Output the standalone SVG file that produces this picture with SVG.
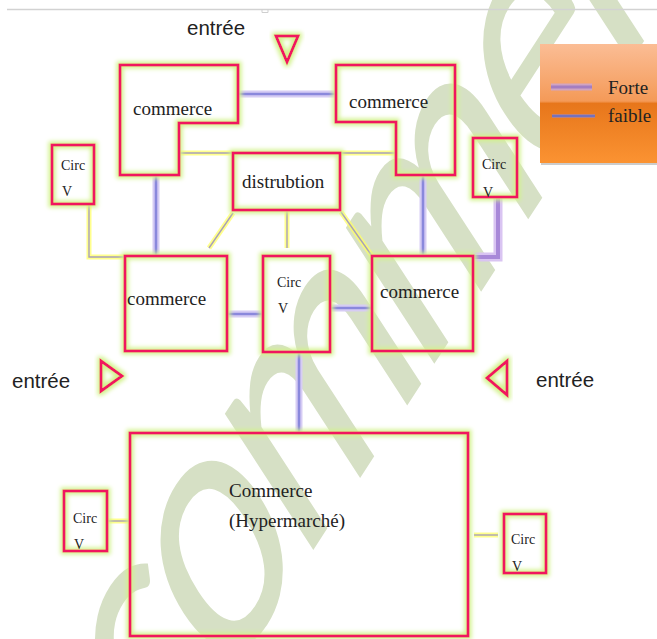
<svg xmlns="http://www.w3.org/2000/svg" width="657" height="639" viewBox="0 0 657 639">
<style>
.wm{font-family:Lato,"Open Sans",sans-serif;font-size:380px;letter-spacing:-20px;fill:#d6e0c5}
.box{fill:none;stroke:#f0135e;stroke-width:3;filter:url(#glow)}
.lbl{font-family:"Liberation Serif",serif;font-size:19px;fill:#222}
.sm{font-family:"Liberation Serif",serif;font-size:14px;fill:#222}
.ent{font-family:"Liberation Sans",Arial,sans-serif;font-size:20.5px;fill:#222}
.yh{stroke:#ffff66;stroke-width:5;opacity:.75;fill:none}
.yl{stroke:#a8a0b8;stroke-width:1.4;fill:none}
.bh{stroke:#d6ccf4;stroke-width:7;fill:none}
.bl{stroke:#8a88dc;stroke-width:2.6;fill:none}
.ph{stroke:#d9c4f2;stroke-width:9;fill:none}
.pl{stroke:#a888d8;stroke-width:4;fill:none}
</style>
<defs>
<filter id="glow" x="-30%" y="-30%" width="160%" height="160%">
<feMorphology operator="dilate" radius="2" in="SourceAlpha" result="d"/>
<feGaussianBlur in="d" stdDeviation="2" result="b"/>
<feFlood flood-color="#d2f28c"/>
<feComposite in2="b" operator="in" result="g"/>
<feMerge><feMergeNode in="g"/><feMergeNode in="SourceGraphic"/></feMerge>
</filter>
<linearGradient id="leg" x1="0" y1="0" x2="0" y2="1">
<stop offset="0" stop-color="#fbbd95"/>
<stop offset="0.48" stop-color="#f49a58"/>
<stop offset="0.5" stop-color="#e7761b"/>
<stop offset="1" stop-color="#fb9332"/>
</linearGradient>
</defs>
<rect width="657" height="639" fill="#fff"/>
<g id="watermark">
<text class="wm" transform="translate(156,792) scale(0.65,1) rotate(-45) scale(0.9,1)">commerce</text>
</g>
<g id="page-edge">
<line x1="7" y1="9.5" x2="657" y2="9.5" stroke="#d2d2d2" stroke-width="1.5"/>
<path d="M262,9.5 v3 h6 v-3" fill="none" stroke="#cfcfcf" stroke-width="1"/>
</g>
<g id="connectors">
<line class="bh" x1="238" y1="94" x2="336" y2="94"/><line class="bl" x1="238" y1="94" x2="336" y2="94"/>
<path class="yh" d="M179,153 H234 M340,153 H396"/><path class="yl" d="M179,153 H234 M340,153 H396"/>
<path class="yh" d="M89,204 V257 H125"/><path class="yl" d="M89,204 V257 H125"/>
<line class="bh" x1="156" y1="175" x2="156" y2="256"/><line class="bl" x1="156" y1="175" x2="156" y2="256"/>
<line class="yh" x1="233" y1="213" x2="209" y2="248"/><line class="yl" x1="233" y1="213" x2="209" y2="248"/>
<line class="yh" x1="287" y1="210" x2="287" y2="248"/><line class="yl" x1="287" y1="210" x2="287" y2="248"/>
<line class="yh" x1="341" y1="212" x2="372" y2="256"/><line class="yl" x1="341" y1="212" x2="372" y2="256"/>
<line class="bh" x1="423" y1="175" x2="423" y2="256"/><line class="bl" x1="423" y1="175" x2="423" y2="256"/>
<path class="ph" d="M498,197 V257 H473"/><path class="pl" d="M498,197 V257 H473"/>
<line class="bh" x1="227" y1="314" x2="263" y2="314"/><line class="bl" x1="227" y1="314" x2="263" y2="314"/>
<line class="bh" x1="330" y1="308" x2="372" y2="308"/><line class="bl" x1="330" y1="308" x2="372" y2="308"/>
<line class="bh" x1="299" y1="352" x2="299" y2="433"/><line class="bl" x1="299" y1="352" x2="299" y2="433"/>
<line class="yh" x1="107" y1="521" x2="130" y2="521"/><line class="yl" x1="107" y1="521" x2="130" y2="521"/>
<line class="yh" x1="474" y1="535" x2="498" y2="535"/><line class="yl" x1="474" y1="535" x2="498" y2="535"/>
</g>
<g id="entree-top">
<text class="ent" x="187" y="35">entrée</text>
<polygon class="box" points="276,36 298,36 287,62"/>
</g>
<g id="entree-left">
<text class="ent" x="12" y="388">entrée</text>
<polygon class="box" points="101,361 101,391 122,376"/>
</g>
<g id="entree-right">
<text class="ent" x="536" y="387">entrée</text>
<polygon class="box" points="507,361 507,395 487,378"/>
</g>
<g id="commerce-tl">
<polygon class="box" points="120,65 238,65 238,123 179,123 179,175 120,175"/>
<text class="lbl" x="133" y="115">commerce</text>
</g>
<g id="commerce-tr">
<polygon class="box" points="336,65 455,65 455,175 396,175 396,122 336,122"/>
<text class="lbl" x="349" y="108">commerce</text>
</g>
<g id="distribution">
<rect class="box" x="233" y="153" width="107" height="57"/>
<text class="lbl" x="242" y="188">distrubtion</text>
</g>
<g id="circ-left">
<rect class="box" x="52" y="145" width="42" height="59"/>
<text class="sm" x="61" y="170">Circ</text>
<text class="sm" x="62" y="196">V</text>
</g>
<g id="circ-right">
<rect class="box" x="473" y="138" width="44" height="59"/>
<text class="sm" x="482" y="169">Circ</text>
<text class="sm" x="483" y="197">V</text>
</g>
<g id="commerce-ml">
<rect class="box" x="125" y="256" width="102" height="95"/>
<text class="lbl" x="127" y="305">commerce</text>
</g>
<g id="circ-mid">
<rect class="box" x="263" y="256" width="67" height="96"/>
<text class="sm" x="277" y="287">Circ</text>
<text class="sm" x="278" y="313">V</text>
</g>
<g id="commerce-mr">
<rect class="box" x="372" y="256" width="101" height="95"/>
<text class="lbl" x="380" y="298">commerce</text>
</g>
<g id="hypermarche">
<rect class="box" x="130" y="433" width="338" height="203"/>
<text class="lbl" x="229" y="497">Commerce</text>
<text class="lbl" x="229" y="527">(Hypermarché)</text>
</g>
<g id="circ-bl">
<rect class="box" x="64" y="491" width="43" height="60"/>
<text class="sm" x="73" y="523">Circ</text>
<text class="sm" x="74" y="549">V</text>
</g>
<g id="circ-br">
<rect class="box" x="504" y="514" width="42" height="59"/>
<text class="sm" x="511" y="544">Circ</text>
<text class="sm" x="512" y="571">V</text>
</g>
<g id="legend">
<rect x="541" y="47" width="116" height="118" fill="#9a9a9a" opacity="0.5"/>
<rect x="540" y="44" width="117" height="119" fill="url(#leg)"/>
<line x1="551" y1="87" x2="592" y2="87" stroke="#c8a4d8" stroke-width="7" opacity="0.8"/>
<line x1="551" y1="87" x2="592" y2="87" stroke="#a47ec0" stroke-width="3"/>
<text class="lbl" x="608" y="94" font-size="18">Forte</text>
<line x1="552" y1="116" x2="595" y2="116" stroke="#9a84c0" stroke-width="4" opacity="0.6"/>
<line x1="552" y1="116" x2="595" y2="116" stroke="#7472bc" stroke-width="2"/>
<text class="lbl" x="608" y="122" font-size="18">faible</text>
</g>
</svg>
